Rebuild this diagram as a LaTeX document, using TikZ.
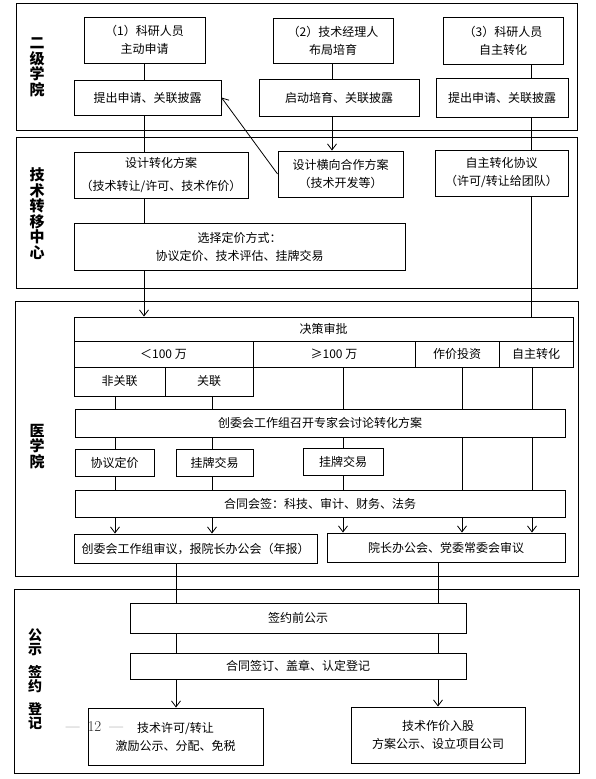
\documentclass[tikz,border=0pt]{standalone}
\usepackage{fontspec}
\newfontfamily\cjk{Noto Sans CJK SC}
\usetikzlibrary{arrows.meta}
\tikzset{box/.style={draw, line width=0.9pt, inner sep=0pt, align=center,
   font=\cjk\fontsize{12}{18}\selectfont},
 frame/.style={draw, line width=0.9pt},
 side/.style={align=center, font=\cjk\bfseries\fontsize{15}{15.5}\selectfont},
 link/.style={line width=0.8pt},
 arr/.style={link, -{Straight Barb[length=6pt,width=9pt]}},
 }

\begin{document}
\begin{tikzpicture}[x=1pt, y=-1pt]
        \useasboundingbox (0,0) rectangle (595,779);
        \draw[frame] (16,3) rectangle (577,130);
        \draw[frame] (16,137) rectangle (577,288);
        \draw[frame] (15,301) rectangle (578,576);
        \draw[frame] (14,589) rectangle (579,773);

        \node[side] (n1) at (37,67.5) {二\\级\\学\\院};
        \node[side] (n2) at (37,213.5) {技\\术\\转\\移\\中\\心};
        \node[side] (n3) at (37,446.5) {医\\学\\院};
        \node[side, font=\cjk\bfseries\fontsize{14}{14}\selectfont] (n4) at (35,679)
            {公\\示\\[9pt]签\\约\\[9pt]登\\记};

        \coordinate (cA) at (144,0);
        \coordinate (cB) at (332,0);
        \coordinate (cR) at (531.5,0);
        \coordinate (p1) at (115,0);
        \coordinate (p2) at (212,0);
        \coordinate (p3) at (343,0);
        \coordinate (p4) at (462,0);
        \coordinate (p5) at (532,0);
        \coordinate (q1) at (176,0);
        \coordinate (q2) at (438,0);

        \node[box, minimum width=121pt, minimum height=46pt] (a1) at (144.5,40) {（1）科研人员\\主动申请};
        \node[box, minimum width=120pt, minimum height=45pt] (a2) at (333,40.5) {（2）技术经理人\\布局培育};
        \node[box, minimum width=120pt, minimum height=47pt] (a3) at (503,40.5) {（3）科研人员\\自主转化};
        \node[box, minimum width=147pt, minimum height=35pt] (b1) at (147.5,97.5) {提出申请、关联披露};
        \node[box, minimum width=160pt, minimum height=37pt] (b2) at (339,97.5) {启动培育、关联披露};
        \node[box, minimum width=132pt, minimum height=39pt] (b3) at (502,97.5) {提出申请、关联披露};

        \node[box, minimum width=174pt, minimum height=46pt] (c1) at (161,175) {设计转化方案\\[5pt]（技术转让/许可、技术作价）};
        \node[box, minimum width=125pt, minimum height=46pt] (c2) at (340.5,174) {设计横向合作方案\\（技术开发等）};
        \node[box, minimum width=133pt, minimum height=46pt] (c3) at (501.5,173) {自主转化协议\\（许可/转让给团队）};
        \node[box, minimum width=331pt, minimum height=47pt] (d1) at (239.5,246.5) {选择定价方式：\\协议定价、技术评估、挂牌交易};

        \node[box, minimum width=499pt, minimum height=24pt] (e0) at (323.5,329) {决策审批};
        \node[box, minimum width=179pt, minimum height=26pt] (f1) at (163.5,354) {＜100 万};
        \node[box, minimum width=162pt, minimum height=26pt] (f2) at (334,354) {≥100 万};
        \node[box, minimum width=84pt, minimum height=26pt] (f3) at (457,354) {作价投资};
        \node[box, minimum width=74pt, minimum height=26pt] (f4) at (536,354) {自主转化};
        \node[box, minimum width=91pt, minimum height=29pt] (g1) at (119.5,381.5) {非关联};
        \node[box, minimum width=88pt, minimum height=29pt] (g2) at (209,381.5) {关联};
        \node[box, minimum width=490pt, minimum height=28pt] (h) at (320,423) {创委会工作组召开专家会讨论转化方案};
        \node[box, minimum width=79pt, minimum height=27pt] (i1) at (114.5,462.5) {协议定价};
        \node[box, minimum width=77pt, minimum height=27pt] (i2) at (214.5,462.5) {挂牌交易};
        \node[box, minimum width=80pt, minimum height=27pt] (i3) at (343,461.5) {挂牌交易};
        \node[box, minimum width=490pt, minimum height=27pt] (j) at (320,503.5) {合同会签：科技、审计、财务、法务};
        \node[box, minimum width=243pt, minimum height=29pt] (k1) at (195.5,548.5) {创委会工作组审议，报院长办公会（年报）};
        \node[box, minimum width=238pt, minimum height=29pt] (k2) at (446,547.5) {院长办公会、党委常委会审议};

        \node[box, minimum width=336pt, minimum height=30pt] (l1) at (298,618) {签约前公示};
        \node[box, minimum width=336pt, minimum height=26pt] (l2) at (298,666) {合同签订、盖章、认定登记};
        \node[box, minimum width=175pt, minimum height=57pt] (m1) at (175.5,736.5) {技术许可/转让\\激励公示、分配、免税};
        \node[box, minimum width=174pt, minimum height=56pt] (m2) at (438,735) {技术作价入股\\方案公示、设立项目公司};

        \node[font=\fontsize{15}{15}\selectfont, text=black!85] (pg) at (94.5,727) {—\hspace{8pt}12\hspace{8pt}—};

        \draw[link] (a1.south -| cA) -- (b1.north -| cA);
        \draw[link] (a2.south -| cB) -- (b2.north -| cB);
        \draw[link] (a3.south -| cR) -- (b3.north -| cR);
        \draw[link] (b1.south -| cA) -- (c1.north -| cA);
        \draw[link] (c1.south -| cA) -- (d1.north -| cA);
        \draw[arr] (d1.south -| cA) -- (e0.north -| cA);
        \draw[arr] (b2.south -| cB) -- (c2.north -| cB);
        \draw[arr] (c2.west) -- (b1.east);
        \draw[link] (b3.south -| cR) -- (c3.north -| cR);
        \draw[link] (c3.south -| cR) -- (e0.north -| cR);

        \foreach \s/\c in {g1/p1, g2/p2, f2/p3, f3/p4, f4/p5} {
            \draw[link] (\s.south -| \c) -- (h.north -| \c);
        }
        \foreach \t/\c in {i1/p1, i2/p2, i3/p3} {
            \draw[link] (h.south -| \c) -- (\t.north -| \c) (\t.south -| \c) -- (j.north -| \c);
        }
        \foreach \c in {p4, p5} {
            \draw[link] (h.south -| \c) -- (j.north -| \c);
        }
        \foreach \t/\c in {k1/p1, k1/p2, k2/p3, k2/p4, k2/p5} {
            \draw[arr] (j.south -| \c) -- (\t.north -| \c);
        }

        \draw[link] (k1.south -| q1) -- (l1.north -| q1);
        \draw[link] (k2.south -| q2) -- (l1.north -| q2);
        \foreach \c in {q1, q2} {
            \draw[link] (l1.south -| \c) -- (l2.north -| \c);
        }
        \draw[arr] (l2.south -| q1) -- (m1.north -| q1);
        \draw[arr] (l2.south -| q2) -- (m2.north -| q2);
    \end{tikzpicture}
\end{document}
